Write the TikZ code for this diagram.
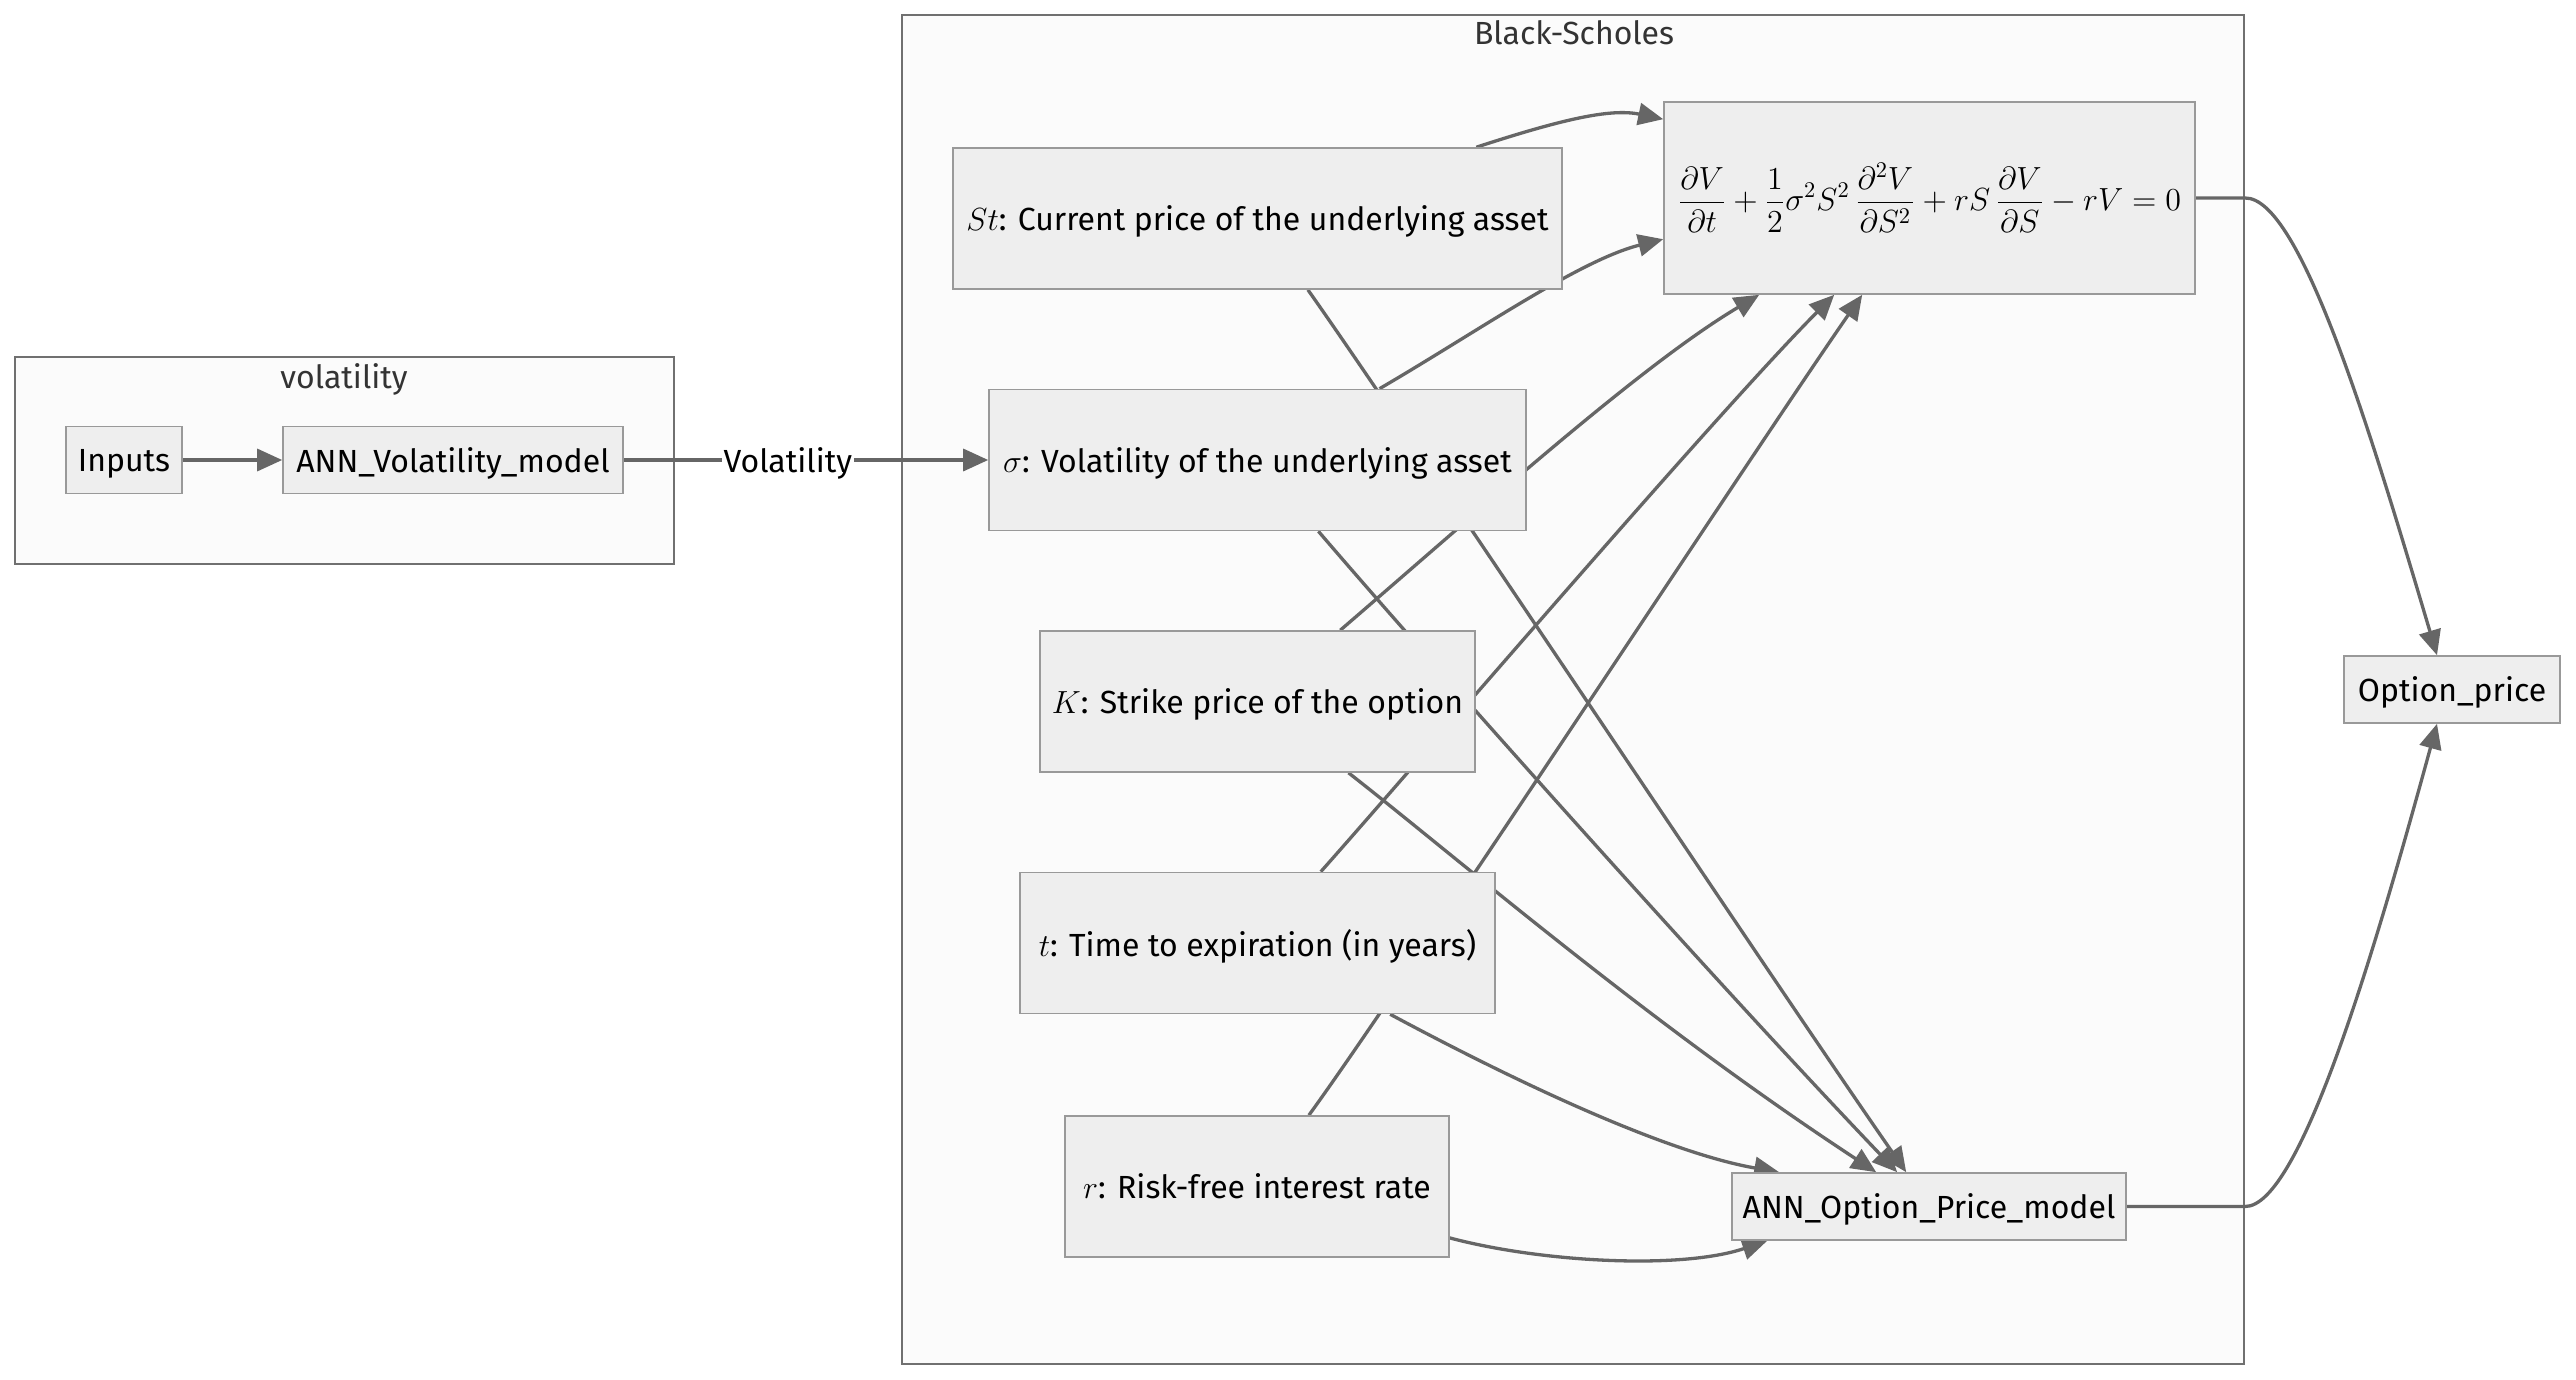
\RequirePackage{fix-cm}
\documentclass[tikz,border=0pt]{standalone}
\usepackage{fontspec}
\setmainfont{Fira Sans}
\usetikzlibrary{arrows.meta, calc, positioning}
\definecolor{nodefill}{HTML}{EEEEEE}
\definecolor{nodeline}{HTML}{999999}
\definecolor{grpfill}{HTML}{FBFBFB}
\definecolor{grpline}{HTML}{707070}
\definecolor{wire}{HTML}{666666}
\definecolor{grptext}{HTML}{333333}
\pgfdeclarelayer{back}
\pgfdeclarelayer{wires}
\pgfsetlayers{back,wires,main}
\tikzset{
  % riquadro di un nodo
  box/.style={draw=nodeline, line width=0.8pt, fill=nodefill, inner sep=0pt,
    align=center, text depth=0pt, font=\fontsize{16}{19}\selectfont},
  % sottografo
  grpbox/.style={draw=grpline, line width=1pt, fill=grpfill, inner sep=0pt},
  grptitle/.style={font=\fontsize{16}{19}\selectfont, text depth=0pt, text=grptext},
  % collegamenti
  flow/.style={draw=wire, line width=1.65pt, -{Triangle[length=12.5pt, width=11pt]}},
  edgelbl/.style={fill=white, inner sep=1pt, text depth=0pt, font=\fontsize{16}{19}\selectfont},
}

\begin{document}
\begin{tikzpicture}[x=0.5pt, y=-0.5pt]
  \useasboundingbox (0,0) rectangle (2576,1380);
  % sottografi
  \begin{pgfonlayer}{back}
    \node[grpbox, minimum width=329.5pt, minimum height=103.5pt] (volgrp) at (344.5,460.5) {};
    \node[grpbox, minimum width=671pt, minimum height=674.5pt] (bs) at (1573,689.5) {};
  \end{pgfonlayer}
  \node[grptitle] (voltitle) at (344,376) {volatility};
  \node[grptitle] (bstitle) at (1574,33) {Black-Scholes};
  % nodi
  \node[box, minimum width=58pt, minimum height=33.5pt] (inputs) at (124,460) {Inputs};
  \node[box, minimum width=170pt, minimum height=33.5pt] (annvol) at (453,460) {ANN\_Volatility\_model};
  \node[box, minimum width=304.5pt, minimum height=70.5pt] (st) at (1257.5,218.5) {$St$: Current price of the underlying asset};
  \node[box, minimum width=268.5pt, minimum height=70.5pt] (sigma) at (1257.5,460) {$\sigma$: Volatility of the underlying asset};
  \node[box, minimum width=217.5pt, minimum height=70.5pt] (strike) at (1257.5,701.5) {$K$: Strike price of the option};
  \node[box, minimum width=237.5pt, minimum height=70.5pt] (ttm) at (1257.5,943) {$t$: Time to expiration (in years)};
  \node[box, minimum width=192pt, minimum height=70.5pt] (rate) at (1257,1186.5) {$r$: Risk-free interest rate};
  \node[box, text depth=, minimum width=265.5pt, minimum height=96pt] (pde) at (1929.5,198)
    {$\displaystyle\frac{\partial V}{\partial t}+\frac{1}{2}\sigma^2S^2\,\frac{\partial^2V}{\partial S^2}+rS\,\frac{\partial V}{\partial S}-rV=0$};
  \node[box, minimum width=197pt, minimum height=33.5pt] (annopt) at (1929,1206.5) {ANN\_Option\_Price\_model};
  \node[box, minimum width=108pt, minimum height=33.5pt] (optprice) at (2452,689.5) {Option\_price};
  % frecce
  \begin{pgfonlayer}{wires}
    \draw[flow] (inputs) -- (annvol);
    \draw[flow] (annvol) -- node[edgelbl, pos=0.45] {Volatility} (sigma);
    % verso l'equazione
    \draw[flow] (st) .. controls (1560,120) and (1610,108) .. ($(pde.north west)+(0,18)$);
    \draw[flow] (sigma) .. controls (1480,330) and (1580,260) .. ($(pde.north west)+(0,138)$);
    \draw[flow] (strike) .. controls (1480,510) and (1641,365) .. ($(pde.south west)+(96,0)$);
    \draw[flow] (ttm) .. controls (1420,760) and (1715,415) .. ($(pde.south west)+(171,0)$);
    \draw[flow] (rate) .. controls (1400,990) and (1758,445) .. ($(pde.south west)+(199,0)$);
    % verso il modello ANN
    \draw[flow] (st) .. controls (1400,420) and (1767,972) .. ($(annopt.north west)+(175,0)$);
    \draw[flow] (sigma) .. controls (1420,650) and (1706,972) .. ($(annopt.north west)+(166,0)$);
    \draw[flow] (strike) .. controls (1460,860) and (1647,1022) .. ($(annopt.north west)+(145,0)$);
    \draw[flow] (ttm) .. controls (1550,1100) and (1680,1155) .. ($(annopt.north west)+(48,0)$);
    \draw[flow] (rate) .. controls (1540,1262) and (1680,1270) .. ($(annopt.south west)+(36,0)$);
    % uscite
    \draw[flow] (pde.east) -- (pde.east -| bs.east) .. controls (2300,197) and (2370,430) .. ($(optprice.north)+(-15,0)$);
    \draw[flow] (annopt.east) -- (annopt.east -| bs.east) .. controls (2300,1207) and (2375,950) .. ($(optprice.south)+(-15,0)$);
  \end{pgfonlayer}
\end{tikzpicture}
\end{document}
